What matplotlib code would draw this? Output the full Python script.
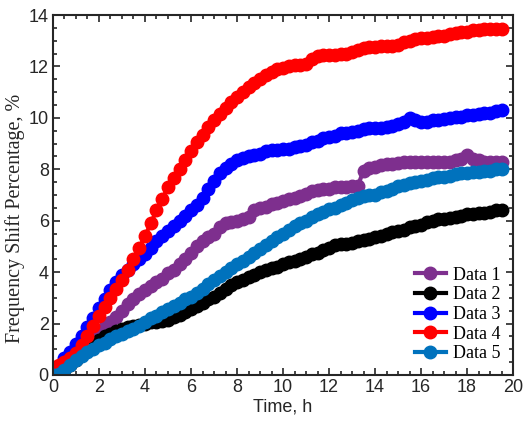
#--------importing modules-------------

import matplotlib
matplotlib.use("Agg")
import matplotlib.pyplot as plt
from matplotlib.ticker import MultipleLocator

#---------------------------------------
#-------data----------------------------
#---------------------------------------

hours = [0, 0.25, 0.5, 0.75, 1, 1.25, 1.5, 1.75, 2, 2.25,
         2.5, 2.75, 3, 3.25, 3.5, 3.75, 4, 4.25, 4.5, 4.75,
         5, 5.25, 5.5, 5.75, 6, 6.25, 6.5, 6.75, 7, 7.25,
         7.5, 7.75, 8, 8.25, 8.5, 8.75, 9, 9.25, 9.5, 9.75,
         10, 10.25, 10.5, 10.75, 11, 11.25, 11.5, 11.75, 12, 12.25,
         12.5, 12.75, 13, 13.25, 13.5, 13.75, 14, 14.25, 14.5, 14.75,
         15, 15.25, 15.5, 15.75, 16, 16.25, 16.5, 16.75, 17, 17.25,
         17.5, 17.75, 18, 18.25, 18.5, 18.75, 19, 19.25, 19.5]

data1 = [0.05, 0.15, 0.3, 0.5, 0.7, 0.95, 1.2, 1.4, 1.6, 1.85,
         2.05, 2.25, 2.5, 2.75, 2.95, 3.15, 3.3, 3.45, 3.6, 3.75,
         3.95, 4.1, 4.3, 4.5, 4.75, 5.0, 5.2, 5.35, 5.5, 5.75,
         5.9, 5.95, 6.0, 6.05, 6.15, 6.4, 6.5, 6.55, 6.65, 6.7,
         6.75, 6.85, 6.9, 6.95, 7.05, 7.15, 7.2, 7.25, 7.25, 7.3,
         7.3, 7.3, 7.35, 7.35, 7.95, 8.05, 8.1, 8.15, 8.2, 8.2,
         8.25, 8.3, 8.3, 8.3, 8.3, 8.3, 8.3, 8.3, 8.3, 8.3,
         8.35, 8.4, 8.55, 8.4, 8.35, 8.3, 8.3, 8.3, 8.3]

data2 = [0.0, 0.1, 0.2, 0.4, 0.6, 0.8, 1.0, 1.2, 1.35, 1.5,
         1.6, 1.7, 1.8, 1.85, 1.9, 1.95, 2.0, 2.05, 2.05, 2.1,
         2.15, 2.25, 2.35, 2.45, 2.55, 2.7, 2.8, 2.95, 3.05, 3.2,
         3.35, 3.5, 3.6, 3.7, 3.8, 3.9, 4.0, 4.1, 4.15, 4.2,
         4.3, 4.4, 4.45, 4.5, 4.6, 4.7, 4.75, 4.85, 4.95, 5.05,
         5.1, 5.1, 5.15, 5.2, 5.25, 5.3, 5.35, 5.4, 5.5, 5.55,
         5.6, 5.65, 5.75, 5.8, 5.85, 5.95, 6.0, 6.05, 6.05, 6.1,
         6.15, 6.2, 6.25, 6.25, 6.3, 6.3, 6.35, 6.4, 6.4]

data3 = [0.1, 0.35, 0.65, 0.9, 1.2, 1.5, 1.85, 2.2, 2.6, 2.95,
         3.3, 3.6, 3.9, 4.1, 4.3, 4.5, 4.7, 4.95, 5.2, 5.4,
         5.6, 5.8, 6.0, 6.2, 6.4, 6.6, 6.9, 7.25, 7.55, 7.85,
         8.05, 8.2, 8.35, 8.45, 8.5, 8.55, 8.6, 8.7, 8.75, 8.75,
         8.8, 8.8, 8.85, 8.9, 8.95, 9.05, 9.1, 9.2, 9.25, 9.3,
         9.4, 9.4, 9.45, 9.5, 9.55, 9.6, 9.6, 9.6, 9.65, 9.7,
         9.75, 9.85, 10.0, 9.9, 9.85, 9.85, 9.9, 9.9, 9.95, 10.0,
         10.05, 10.05, 10.1, 10.1, 10.15, 10.2, 10.2, 10.25, 10.3]

data4 = [0.3, 0.4, 0.5, 0.65, 0.85, 1.15, 1.5, 1.9, 2.3, 2.65,
         3.0, 3.35, 3.7, 4.1, 4.5, 4.95, 5.4, 5.9, 6.4, 6.85,
         7.3, 7.65, 8.0, 8.35, 8.7, 9.05, 9.35, 9.65, 9.9, 10.15,
         10.4, 10.6, 10.8, 11.0, 11.2, 11.35, 11.5, 11.65, 11.8, 11.9,
         11.95, 12.0, 12.05, 12.05, 12.1, 12.3, 12.4, 12.45, 12.45, 12.45,
         12.5, 12.5, 12.55, 12.65, 12.7, 12.75, 12.75, 12.8, 12.8, 12.8,
         12.85, 12.95, 13.0, 13.05, 13.1, 13.1, 13.15, 13.2, 13.2, 13.25,
         13.3, 13.35, 13.35, 13.4, 13.4, 13.45, 13.45, 13.45, 13.45]

data5 = [0.0, 0.05, 0.2, 0.4, 0.6, 0.75, 0.9, 1.0, 1.15, 1.25,
         1.4, 1.5, 1.6, 1.7, 1.8, 1.9, 2.05, 2.2, 2.3, 2.45,
         2.55, 2.7, 2.8, 2.95, 3.05, 3.2, 3.35, 3.55, 3.7, 3.85,
         4.0, 4.15, 4.3, 4.45, 4.6, 4.75, 4.9, 5.05, 5.2, 5.35,
         5.5, 5.65, 5.8, 5.9, 6.0, 6.15, 6.25, 6.35, 6.45, 6.5,
         6.6, 6.7, 6.8, 6.9, 6.95, 7.0, 7.0, 7.1, 7.15, 7.25,
         7.35, 7.4, 7.45, 7.5, 7.55, 7.6, 7.65, 7.7, 7.7, 7.75,
         7.8, 7.85, 7.85, 7.9, 7.9, 7.95, 7.95, 8.0, 8.0]

labels = ['Data 1', 'Data 2', 'Data 3', 'Data 4', 'Data 5']
colors = ['#7E2F8E', '#000000', '#0000FF', '#FF0000', '#0072BD']

#---------------------------------------
#-------plotting------------------------
#---------------------------------------

fig = plt.figure(figsize=(5.23, 4.24), dpi=100)
ax = fig.add_axes([0.1013, 0.1156, 0.8797, 0.849])

for y, lab, c in zip([data1, data2, data3, data4, data5], labels, colors):
    ax.plot(hours, y, '-o', color=c, mfc=c, mec=c, ms=9, lw=3, label=lab)

ax.set_xlim(0, 20)
ax.set_ylim(0, 14)
ax.xaxis.set_major_locator(MultipleLocator(2))
ax.xaxis.set_minor_locator(MultipleLocator(0.5))
ax.yaxis.set_major_locator(MultipleLocator(2))
ax.yaxis.set_minor_locator(MultipleLocator(0.5))

dark = '#262626'
ax.tick_params(which='both', direction='in', top=True, right=True, color=dark,
               labelcolor=dark, width=1.2)
ax.tick_params(which='major', length=5, labelsize=13, pad=3)
ax.tick_params(which='minor', length=3)
for lbl in ax.get_xticklabels() + ax.get_yticklabels():
    lbl.set_family('Liberation Sans')
for s in ax.spines.values():
    s.set_color(dark)
    s.set_linewidth(1.5)

ax.set_xlabel('Time, h', family='Liberation Sans', fontsize=13, color=dark, labelpad=2)
ax.set_ylabel('Frequency Shift Percentage, %', family='Liberation Serif', fontsize=14.5,
              color=dark)
ax.yaxis.set_label_coords(-0.06, 0.436)

ax.legend(loc='lower right', frameon=False, prop={'family': 'Liberation Serif', 'size': 13},
          handlelength=1.7, handletextpad=0.4, labelspacing=0.15,
          borderaxespad=0.3, markerscale=1.0)

plt.savefig('out.png', dpi=100)
